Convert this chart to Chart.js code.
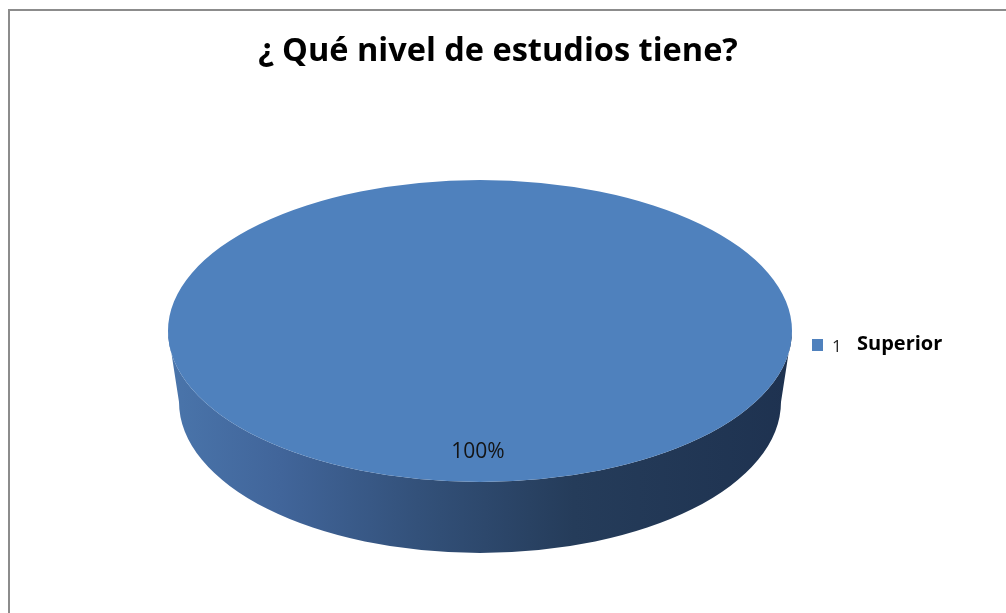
<!DOCTYPE html>
<html lang="es">
<head>
<meta charset="utf-8">
<title>¿ Qué nivel de estudios tiene?</title>
<script src="https://cdn.jsdelivr.net/npm/chart.js@4/dist/chart.umd.min.js"></script>
<style>
  html, body { margin: 0; padding: 0; background: #ffffff; overflow: hidden; }
  #wrap { width: 1006px; height: 613px; position: relative; }
  canvas { display: block; }
</style>
</head>
<body>
<div id="wrap"><canvas id="chart" width="1006" height="613"></canvas></div>
<script>
// Survey answers: education level
const categories = ['Superior'];
const categoryCodes = ['1'];
const percentages = [100];
const sliceColors = ['#4f81bd'];
const chartTitle = '¿ Qué nivel de estudios tiene?';

const FONT = '"Open Sans", Lato, sans-serif';

// Tilted-disc projection of the pie (screen pixels)
const DISC = { cx: 480, cy: 331, rx: 312, ry: 151, depth: 71, bottomRx: 301 };

function sliceArc(chart) {
  return chart.getDatasetMeta(0).data[0];
}

// Outer frame around the chart
const framePlugin = {
  id: 'frame',
  beforeDraw(chart) {
    const ctx = chart.ctx;
    ctx.save();
    ctx.fillStyle = '#ffffff';
    ctx.fillRect(0, 0, chart.width, chart.height);
    ctx.strokeStyle = '#8c8c8c';
    ctx.lineWidth = 2;
    ctx.strokeRect(9, 10, chart.width + 20, chart.height + 20);
    ctx.restore();
  }
};

// Draws the disc's side wall, then flattens the library's pie into an ellipse
const discPlugin = {
  id: 'disc',
  beforeDatasetsDraw(chart) {
    const ctx = chart.ctx;
    const arc = sliceArc(chart);
    if (!arc) return;
    const { cx, cy, rx, ry, depth, bottomRx } = DISC;

    ctx.save();
    const grad = ctx.createLinearGradient(cx - rx, 0, cx + rx, 0);
    grad.addColorStop(0, '#4a75ab');
    grad.addColorStop(0.18, '#41659a');
    grad.addColorStop(0.4, '#33517a');
    grad.addColorStop(0.65, '#253c5a');
    grad.addColorStop(1, '#1e3250');
    ctx.fillStyle = grad;
    ctx.beginPath();
    ctx.moveTo(cx - rx, cy);
    ctx.lineTo(cx - bottomRx, cy + depth);
    ctx.ellipse(cx, cy + depth, bottomRx, ry, 0, Math.PI, 0, true);
    ctx.lineTo(cx + rx, cy);
    ctx.ellipse(cx, cy, rx, ry, 0, 0, Math.PI, false);
    ctx.closePath();
    ctx.fill();
    ctx.restore();

    ctx.save();
    const r = arc.outerRadius;
    ctx.translate(cx, cy);
    ctx.scale(rx / r, ry / r);
    ctx.translate(-arc.x, -arc.y);
  },
  afterDatasetsDraw(chart) {
    const ctx = chart.ctx;
    ctx.restore();

    // Percentage label on the slice
    const meta = chart.getDatasetMeta(0);
    const total = percentages.reduce((a, b) => a + b, 0);
    ctx.save();
    ctx.fillStyle = '#141414';
    ctx.font = '21px ' + FONT;
    ctx.textAlign = 'center';
    ctx.textBaseline = 'alphabetic';
    meta.data.forEach((el, i) => {
      const p = el.getProps(['startAngle', 'endAngle'], true);
      const mid = (p.startAngle + p.endAngle) / 2;
      const k = 0.84;
      const x = DISC.cx + Math.cos(mid) * DISC.rx * k - 2;
      const y = DISC.cy + Math.sin(mid) * DISC.ry * k;
      const pct = Math.round(percentages[i] / total * 100) + '%';
      ctx.fillText(pct, x, y);
    });
    ctx.restore();
  }
};

// Legend entry: swatch, code in regular weight, label in bold
const legendPlugin = {
  id: 'sideLegend',
  afterDraw(chart) {
    const ctx = chart.ctx;
    const ds = chart.data.datasets[0];
    ctx.save();
    chart.data.labels.forEach((label, i) => {
      const y = 350 + i * 26;
      ctx.fillStyle = ds.backgroundColor[i];
      ctx.fillRect(812, y - 11, 11, 12);
      ctx.textBaseline = 'alphabetic';
      ctx.textAlign = 'left';
      ctx.fillStyle = '#262626';
      ctx.font = '17px ' + FONT;
      ctx.fillText(categoryCodes[i], 832, y + 2);
      ctx.fillStyle = '#000000';
      ctx.font = 'bold 20px ' + FONT;
      ctx.fillText(label, 857, y);
    });
    ctx.restore();
  }
};

new Chart(document.getElementById('chart'), {
  type: 'pie',
  data: {
    labels: categories,
    datasets: [{
      data: percentages,
      backgroundColor: sliceColors,
      borderWidth: 0,
      clip: false
    }]
  },
  options: {
    responsive: false,
    animation: false,
    events: [],
    layout: { padding: { left: 0, right: 10, top: 0, bottom: 0 } },
    plugins: {
      legend: { display: false },
      tooltip: { enabled: false },
      title: {
        display: true,
        text: chartTitle,
        color: '#000000',
        font: { family: FONT, size: 32.5, weight: 'bold', lineHeight: 1.2 },
        padding: { top: 32, bottom: 10 }
      }
    }
  },
  plugins: [framePlugin, discPlugin, legendPlugin]
});
</script>
</body>
</html>
